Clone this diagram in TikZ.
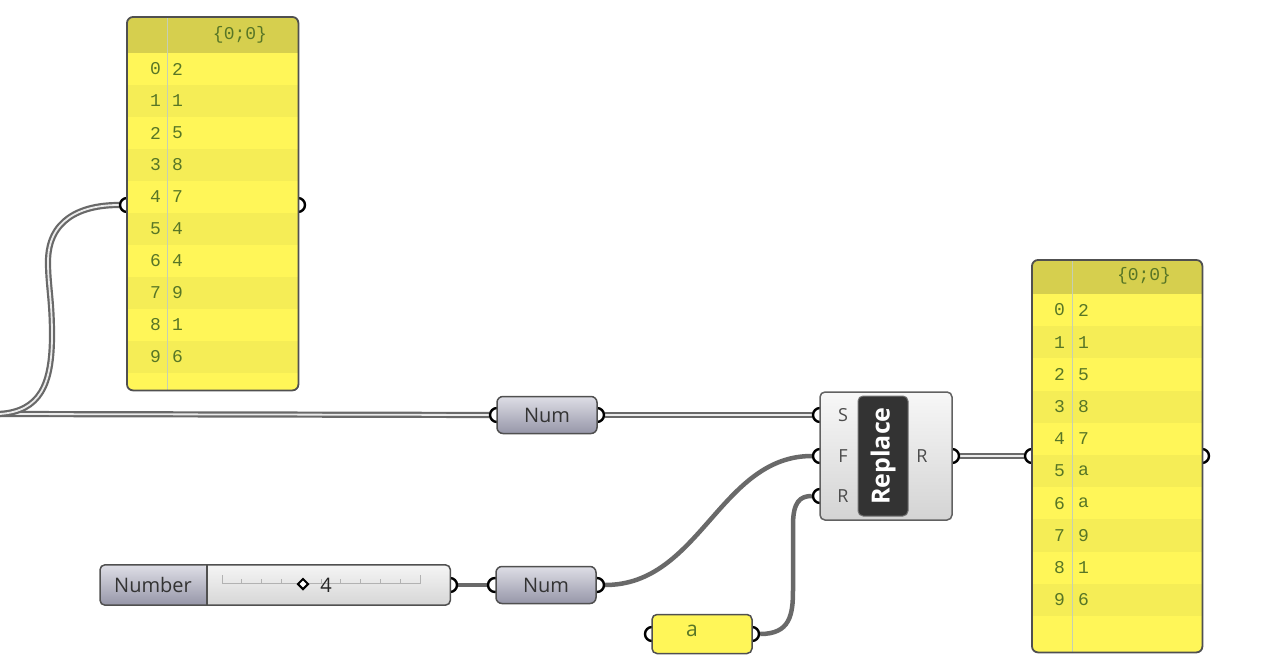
\documentclass[tikz,border=0pt]{standalone}
\usepackage{fontspec}
\setmainfont{Open Sans}
\newfontfamily\panelfont{Liberation Mono}
\usepackage{tikz}
\usetikzlibrary{calc}
\usetikzlibrary{shapes}
\definecolor{gh-yellow}{RGB}{255, 246, 88}
\definecolor{gh-yellow1}{RGB}{245, 237, 86}
\definecolor{gh-yellow2}{RGB}{214, 207, 78}
\definecolor{gh-green}{RGB}{88, 118, 38}
\definecolor{gh-wire}{RGB}{105, 105, 105}
\definecolor{gh-edge}{RGB}{80, 80, 80}
\definecolor{gh-purple}{RGB}{150, 150, 168}
\definecolor{gh-purple1}{RGB}{222, 222, 230}
\pgfdeclarelayer{wires}
\pgfsetlayers{wires,main}

\begin{document}
\begin{tikzpicture}[x=1pt, y=-1pt,
    port/.style={circle, draw=black, line width=2.4pt, fill=white, minimum size=14pt, inner sep=0pt},
    list/.style={draw=gh-wire, line width=2.2pt, double=white!92!black, double distance=1.8pt},
    item/.style={draw=gh-wire, line width=4.5pt},
    param/.style={rectangle, rounded corners=6pt, draw=gh-edge, line width=1.5pt, top color=gh-purple1, bottom color=gh-purple, minimum width=100pt, minimum height=37pt, font=\fontsize{20}{24}\selectfont, text=black!80},
    panelbg/.style={rectangle, rounded corners=6pt, fill=gh-yellow, inner sep=0pt, anchor=north west},
    cell/.style={font=\panelfont\fontsize{18}{20}\selectfont, text=gh-green, inner sep=0pt},
    label/.style={font=\fontsize{18}{20}\selectfont, text=black!70}]
          \useasboundingbox (0,0) rectangle (1280,671);
          \coordinate (wire-start) at (0,414);

          % ports
          \node[port] (listA-in) at (127,205) {};
          \node[port] (listA-out) at (298,205) {};
          \node[port] (listB-in) at (1032,456) {};
          \node[port] (listB-out) at (1202,456) {};
          \node[port] (num1-in) at (497,415) {};
          \node[port] (num1-out) at (597,415) {};
          \node[port] (num2-in) at (495,585) {};
          \node[port] (num2-out) at (597,585) {};
          \node[port] (slider-out) at (450,585) {};
          \node[port] (txt-in) at (652,634) {};
          \node[port] (txt-out) at (752,634) {};
          \node[port] (rep-s) at (820,415) {};
          \node[port] (rep-f) at (820,456) {};
          \node[port] (rep-r) at (820,496) {};
          \node[port] (rep-out) at (952,456) {};

          % left panel
          \node[panelbg, minimum width=171pt, minimum height=373pt] (listA) at (127,17) {};
          \begin{scope}
            \clip[rounded corners=6pt] (listA.north west) rectangle (listA.south east);
            \fill[gh-yellow2] (127,17) rectangle (298,53);
            \foreach \i in {1,3,...,9}
              \fill[gh-yellow1] (127,53+32*\i) rectangle (298,85+32*\i);
          \end{scope}
          \draw[gh-green!35, line width=0.8pt] (167,17) -- (167,390);
          \draw[gh-edge, line width=1.8pt, rounded corners=6pt] (listA.north west) rectangle (listA.south east);
          \node[cell] (listA-head) at (240,35) {\{0;0\}};
          \foreach \v [count=\i from 0] in {2,1,5,8,7,4,4,9,1,6} {
            \node[cell, anchor=east] (listA-i\i) at (161,69+32*\i) {\i};
            \node[cell, anchor=west] (listA-v\i) at (172,69+32*\i) {\v};
          }

          % right panel
          \node[panelbg, minimum width=170pt, minimum height=392pt] (listB) at (1032,260) {};
          \begin{scope}
            \clip[rounded corners=6pt] (listB.north west) rectangle (listB.south east);
            \fill[gh-yellow2] (1032,260) rectangle (1202,294);
            \foreach \i in {1,3,...,9}
              \fill[gh-yellow1] (1032,294+32.2*\i) rectangle (1202,326.2+32.2*\i);
          \end{scope}
          \draw[gh-green!35, line width=0.8pt] (1072,260) -- (1072,652);
          \draw[gh-edge, line width=1.8pt, rounded corners=6pt] (listB.north west) rectangle (listB.south east);
          \node[cell] (listB-head) at (1144,276) {\{0;0\}};
          \foreach \v [count=\i from 0] in {2,1,5,8,7,a,a,9,1,6} {
            \node[cell, anchor=east] (listB-i\i) at (1065,310+32.2*\i) {\i};
            \node[cell, anchor=west] (listB-v\i) at (1078,310+32.2*\i) {\v};
          }

          % number parameters
          \node[param] (num1) at (547,415) {Num};
          \node[param] (num2) at (546,585) {Num};

          % slider
          \node[rectangle, rounded corners=5pt, top color=black!4, bottom color=black!16, minimum width=350pt, minimum height=40pt, anchor=west] (slider) at (100,585) {};
          \shade[top color=gh-purple1, bottom color=gh-purple] (207,605) [rounded corners=5pt] -- (100,605) -- (100,565) -- (207,565) [sharp corners] -- cycle;
          \draw[gh-edge, line width=1.2pt] (207,565) -- (207,605);
          \draw[gh-edge, line width=1.5pt, rounded corners=5pt] (slider.north west) rectangle (slider.south east);
          \node[font=\fontsize{20}{24}\selectfont, text=black!80] (slider-name) at (153,585) {Number};
          \draw[black!30, line width=0.8pt] (222,575) -- (222,583) -- (420,583) -- (420,575);
          \foreach \t in {1,...,9}
            \draw[black!30, line width=0.8pt] (222+19.8*\t,583) -- (222+19.8*\t,579);
          \node[diamond, draw=black, line width=2pt, fill=white, minimum size=11pt, inner sep=0pt] (slider-knob) at (303,584) {};
          \node[font=\fontsize{20}{24}\selectfont, text=black!85] (slider-val) at (326,585) {4};

          % text panel
          \node[rectangle, rounded corners=5pt, draw=gh-edge, line width=1.5pt, fill=gh-yellow, minimum width=100pt, minimum height=39pt] (txt) at (702,634) {};
          \node[font=\fontsize{21}{24}\selectfont, text=gh-green] (txt-val) at (692,631) {a};

          % replace component
          \node[rectangle, rounded corners=5pt, draw=gh-edge!90, line width=1.5pt, top color=black!3, bottom color=black!17, minimum width=132pt, minimum height=128pt] (replace) at (886,456) {};
          \node[rectangle, rounded corners=5pt, draw=black!55, line width=1pt, fill=black!80, rotate=90, minimum width=120pt, minimum height=50pt, text=white, font=\bfseries\fontsize{25}{28}\selectfont] (rep-name) at (883,456) {Replace};
          \node[label] (lab-s) at (843,415) {S};
          \node[label] (lab-f) at (843,456) {F};
          \node[label] (lab-r) at (843,496) {R};
          \node[label] (lab-out) at (922,456) {R};

          % wires
          \begin{pgfonlayer}{wires}
            \fill[white] (0,0) rectangle (1280,671);
            \draw[list] (wire-start) -- (num1-in);
            \draw[list] (wire-start) .. controls (40,411) and (52,385) .. (52,335) .. controls (52,300) and (48,285) .. (48,262) .. controls (48,220) and (80,205) .. (listA-in);
            \draw[list] (num1-out) -- (rep-s);
            \draw[list] (rep-out) -- (listB-in);
            \draw[item] (slider-out) -- (num2-in);
            \draw[item] (num2-out) .. controls (700,585) and (720,456) .. (rep-f);
            \draw[item] (txt-out) .. controls (790,634) and (793,615) .. (793,590) -- (793,525) .. controls (793,502) and (800,496) .. (rep-r);
          \end{pgfonlayer}
        \end{tikzpicture}
\end{document}
